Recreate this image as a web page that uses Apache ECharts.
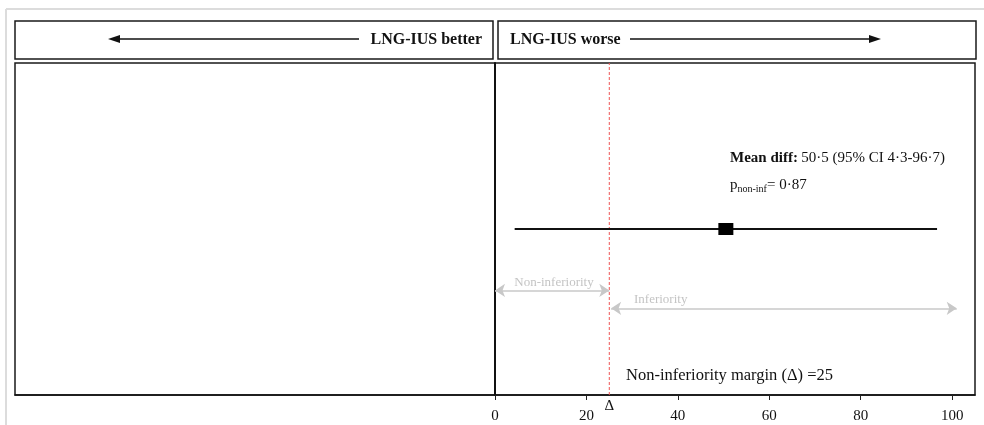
<!DOCTYPE html>
<html>
<head>
<meta charset="utf-8">
<script src="https://cdn.jsdelivr.net/npm/echarts@6/dist/echarts.min.js"></script>
<style>
  html, body { margin: 0; padding: 0; background: #fff; }
  #main { width: 984px; height: 425px; }
</style>
</head>
<body>
<div id="main"></div>
<script>
// data
var tickValues = [0, 20, 40, 60, 80, 100];
var meanDiff = [50.5];
var ciBounds = [4.3, 96.7];
var margin = [25];
var nonInfRange = [0, 25];
var infRange = [25.4, 101];
var rowY = [0.5];

var serif = 'Liberation Serif';
var myChart = echarts.init(document.getElementById('main'));

var option = {
    animation: false,
    grid: {
        left: 15, right: 9, top: 63, bottom: 30,
        show: true,
        borderColor: '#1a1a1a',
        borderWidth: 1.5
    },
    xAxis: {
        type: 'value',
        min: -105,
        max: 105,
        axisLine: { lineStyle: { color: '#111', width: 1.5 } },
        axisTick: { customValues: tickValues, length: 5, lineStyle: { color: '#222' } },
        axisLabel: { customValues: tickValues, color: '#111', fontFamily: serif, fontSize: 15, margin: 14 },
        splitLine: { show: false }
    },
    yAxis: {
        type: 'value',
        min: 0,
        max: 1,
        axisLine: { show: true, onZero: true, lineStyle: { color: '#111', width: 2 } },
        axisTick: { show: false },
        axisLabel: { show: false },
        splitLine: { show: false }
    },
    graphic: [
        // outer light frame
        { type: 'line', shape: { x1: 6, y1: 9, x2: 984, y2: 9 }, style: { stroke: '#dcdcdc', lineWidth: 2 } },
        { type: 'line', shape: { x1: 6, y1: 9, x2: 6, y2: 425 }, style: { stroke: '#dcdcdc', lineWidth: 2 } },
        // header boxes
        { type: 'rect', shape: { x: 15, y: 21, width: 478, height: 38 }, style: { fill: '#fff', stroke: '#1a1a1a', lineWidth: 1.5 } },
        { type: 'rect', shape: { x: 498, y: 21, width: 478, height: 38 }, style: { fill: '#fff', stroke: '#1a1a1a', lineWidth: 1.5 } },
        { type: 'text', style: { text: 'LNG-IUS better', x: 482, y: 40, align: 'right', verticalAlign: 'middle', font: 'bold 16px "Liberation Serif"', fill: '#111' } },
        { type: 'line', shape: { x1: 116, y1: 39, x2: 359, y2: 39 }, style: { stroke: '#111', lineWidth: 1.5 } },
        { type: 'polygon', shape: { points: [[108, 39], [120, 35], [120, 43]] }, style: { fill: '#111' } },
        { type: 'text', style: { text: 'LNG-IUS worse', x: 510, y: 40, align: 'left', verticalAlign: 'middle', font: 'bold 16px "Liberation Serif"', fill: '#111' } },
        { type: 'line', shape: { x1: 630, y1: 39, x2: 873, y2: 39 }, style: { stroke: '#111', lineWidth: 1.5 } },
        { type: 'polygon', shape: { points: [[881, 39], [869, 35], [869, 43]] }, style: { fill: '#111' } },
        // annotations
        {
            type: 'text',
            style: {
                x: 730, y: 158, verticalAlign: 'middle',
                text: '{b|Mean diff:} {n|50·5 (95% CI 4·3-96·7)}',
                rich: {
                    b: { fontFamily: serif, fontWeight: 'bold', fontSize: 15, fill: '#111' },
                    n: { fontFamily: serif, fontSize: 15, fill: '#111' }
                }
            }
        },
        {
            type: 'text',
            style: {
                x: 730, y: 185, verticalAlign: 'middle',
                text: '{p|p}{s|non-inf}{n|= 0·87}',
                rich: {
                    p: { fontFamily: serif, fontSize: 15, fill: '#111' },
                    s: { fontFamily: serif, fontSize: 10, fill: '#111', padding: [8, 0, 0, 0] },
                    n: { fontFamily: serif, fontSize: 15, fill: '#111' }
                }
            }
        },
        { type: 'text', style: { text: 'Non-inferiority', x: 554, y: 283, align: 'center', verticalAlign: 'middle', font: '13px "Liberation Serif"', fill: '#c4c4c4' } },
        { type: 'text', style: { text: 'Inferiority', x: 634, y: 300, align: 'left', verticalAlign: 'middle', font: '13px "Liberation Serif"', fill: '#c4c4c4' } },
        { type: 'text', style: { text: 'Non-inferiority margin (Δ) =25', x: 626, y: 376, align: 'left', verticalAlign: 'middle', font: '16.5px "Liberation Serif"', fill: '#111' } }
    ],
    series: [
        {
            // margin line (dashed red)
            type: 'line',
            data: [[margin[0], 0], [margin[0], 1]],
            symbol: 'none',
            lineStyle: { color: '#ee5555', type: [3, 2], width: 1 },
            silent: true,
            z: 1,
            markPoint: {
                silent: true,
                symbol: 'circle',
                symbolSize: 0,
                label: { show: true, position: 'bottom', distance: 4, formatter: 'Δ', color: '#111', fontFamily: serif, fontSize: 15 },
                data: [{ coord: [margin[0], 0] }]
            }
        },
        {
            type: 'line',
            data: [[ciBounds[0], rowY[0]], [ciBounds[1], rowY[0]]],
            symbol: 'none',
            lineStyle: { color: '#111', width: 2 },
            silent: true,
            z: 3
        },
        {
            type: 'scatter',
            data: [[meanDiff[0], rowY[0]]],
            symbol: 'rect',
            symbolSize: [15, 12],
            itemStyle: { color: '#000', opacity: 1 },
            silent: true,
            z: 4
        },
        {
            type: 'line',
            data: [],
            markLine: {
                silent: true,
                symbol: ['arrow', 'arrow'],
                symbolSize: [10, 10],
                lineStyle: { color: '#c8c8c8', type: 'solid', width: 1.5 },
                label: { show: false },
                data: [
                    [{ coord: [nonInfRange[0], 0.315] }, { coord: [nonInfRange[1], 0.315] }],
                    [{ coord: [infRange[0], 0.261] }, { coord: [infRange[1], 0.261] }]
                ]
            }
        }
    ]
};
myChart.setOption(option);
</script>
</body>
</html>
